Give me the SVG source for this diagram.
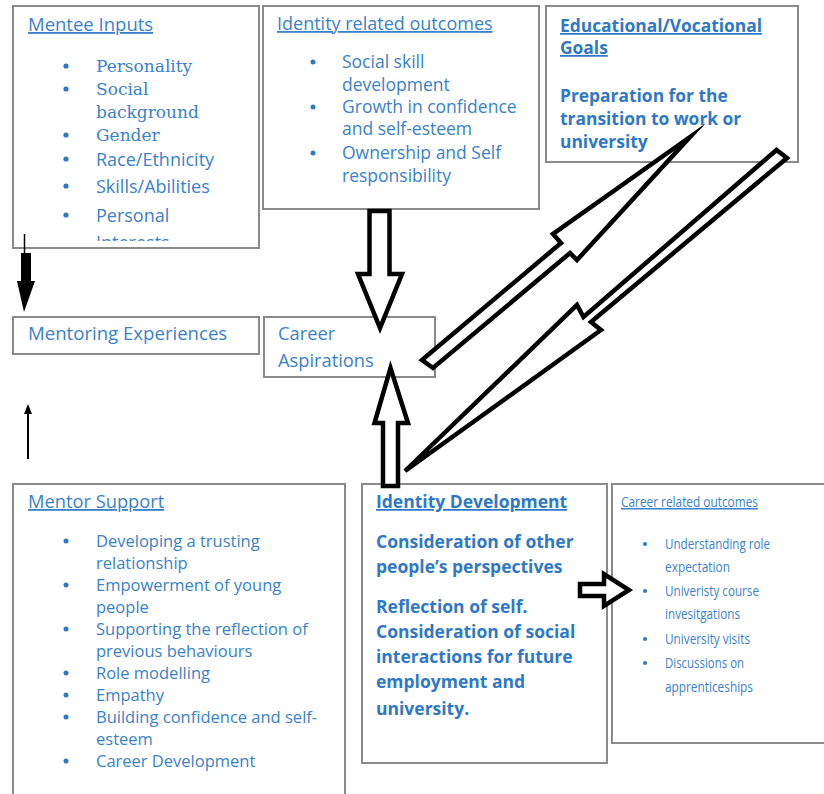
<svg xmlns="http://www.w3.org/2000/svg" width="824" height="794" viewBox="0 0 824 794">
<style>
.box{fill:#fff;stroke:#8a8a8a;stroke-width:2}
.t{font-family:"Open Sans","Liberation Sans",sans-serif;fill:#3a82cb}
.b{font-family:"Open Sans","Liberation Sans",sans-serif;font-weight:bold;fill:#2f78c6}
.s{font-family:"DejaVu Serif","Liberation Serif",serif;fill:#3a82cb}
.u{text-decoration:underline}
.dot{fill:#2f78c6}
.big{fill:#fff;stroke:#000;stroke-width:4.5;stroke-linejoin:miter;stroke-miterlimit:10}
</style>
<defs>
<clipPath id="c1"><rect x="13" y="6" width="246" height="235"/></clipPath>
</defs>
<rect width="824" height="794" fill="#fff"/>

<g id="mentee-inputs">
<rect class="box" x="13" y="6" width="246" height="242"/>
<text class="t u" x="28" y="31" font-size="18.5">Mentee Inputs</text>
<g class="dot">
<circle cx="66" cy="66" r="2.6"/><circle cx="66" cy="89" r="2.6"/><circle cx="66" cy="135" r="2.6"/><circle cx="66" cy="159" r="2.6"/><circle cx="66" cy="186" r="2.6"/><circle cx="66" cy="215" r="2.6"/>
</g>
<g class="s" font-size="17">
<text x="96" y="72">Personality</text>
<text x="96" y="95">Social</text>
<text x="96" y="118">background</text>
<text x="96" y="141">Gender</text>
</g>
<g class="t" font-size="18" clip-path="url(#c1)">
<text x="96" y="166">Race/Ethnicity</text>
<text x="96" y="193">Skills/Abilities</text>
<text x="96" y="222">Personal</text>
<text x="96" y="249">Interests</text>
</g>
</g>

<g id="identity-outcomes">
<rect class="box" x="263" y="6" width="276" height="203"/>
<text class="t u" x="277" y="30" font-size="18">Identity related outcomes</text>
<g class="dot">
<circle cx="313" cy="62" r="2.5"/><circle cx="313" cy="107" r="2.5"/><circle cx="313" cy="153" r="2.5"/>
</g>
<g class="t" font-size="17.5">
<text x="342" y="68">Social skill</text>
<text x="342" y="91">development</text>
<text x="342" y="113">Growth in confidence</text>
<text x="342" y="135">and self-esteem</text>
<text x="342" y="159">Ownership and Self</text>
<text x="342" y="182">responsibility</text>
</g>
</g>

<g id="educational-goals">
<rect class="box" x="546" y="6" width="252" height="156"/>
<g class="b" font-size="17.4">
<text class="u" x="560" y="32">Educational/Vocational</text>
<text class="u" x="560" y="54">Goals</text>
<text x="560" y="102">Preparation for the</text>
<text x="560" y="125">transition to work or</text>
<text x="560" y="148">university</text>
</g>
</g>

<g id="mentoring-experiences">
<rect class="box" x="13" y="317" width="246" height="37"/>
<text class="t" x="28" y="340" font-size="18.6">Mentoring Experiences</text>
</g>

<g id="career-aspirations">
<rect class="box" x="264" y="317" width="171" height="60"/>
<text class="t" x="278" y="340" font-size="18.3">Career</text>
<text class="t" x="278" y="367" font-size="18.3">Aspirations</text>
</g>

<g id="mentor-support">
<rect class="box" x="13" y="484" width="332" height="330"/>
<text class="t u" x="28" y="508" font-size="18.3">Mentor Support</text>
<g class="dot">
<circle cx="66" cy="541" r="2.5"/><circle cx="66" cy="585" r="2.5"/><circle cx="66" cy="629" r="2.5"/><circle cx="66" cy="673" r="2.5"/><circle cx="66" cy="695" r="2.5"/><circle cx="66" cy="717" r="2.5"/><circle cx="66" cy="761" r="2.5"/>
</g>
<g class="t" font-size="16.5">
<text x="96" y="547">Developing a trusting</text>
<text x="96" y="569">relationship</text>
<text x="96" y="591">Empowerment  of young</text>
<text x="96" y="613">people</text>
<text x="96" y="635">Supporting the reflection of</text>
<text x="96" y="657">previous behaviours</text>
<text x="96" y="679">Role modelling</text>
<text x="96" y="701">Empathy</text>
<text x="96" y="723">Building confidence and self-</text>
<text x="96" y="745">esteem</text>
<text x="96" y="767">Career Development</text>
</g>
</g>

<g id="identity-development">
<rect class="box" x="362" y="484" width="245" height="279"/>
<g class="b" font-size="17.5">
<text class="u" x="376" y="508">Identity Development</text>
<text x="376" y="548">Consideration of other</text>
<text x="376" y="573">people’s perspectives</text>
<text x="376" y="613">Reflection of self.</text>
<text x="376" y="638">Consideration of social</text>
<text x="376" y="663">interactions for future</text>
<text x="376" y="688">employment and</text>
<text x="376" y="715">university.</text>
</g>
</g>

<g id="career-outcomes">
<rect class="box" x="612" y="484" width="230" height="259"/>
<g class="dot">
<circle cx="645" cy="544" r="2"/><circle cx="645" cy="591" r="2"/><circle cx="645" cy="639" r="2"/><circle cx="645" cy="663" r="2"/>
</g>
<g class="t" font-size="15">
<text class="u" x="621" y="507" textLength="137" lengthAdjust="spacingAndGlyphs">Career related outcomes</text>
<text x="665" y="549" textLength="105" lengthAdjust="spacingAndGlyphs">Understanding role</text>
<text x="665" y="572" textLength="65" lengthAdjust="spacingAndGlyphs">expectation</text>
<text x="665" y="596" textLength="94" lengthAdjust="spacingAndGlyphs">Univeristy course</text>
<text x="665" y="619" textLength="75" lengthAdjust="spacingAndGlyphs">invesitgations</text>
<text x="665" y="644" textLength="85" lengthAdjust="spacingAndGlyphs">University visits</text>
<text x="665" y="668" textLength="79" lengthAdjust="spacingAndGlyphs">Discussions on</text>
<text x="665" y="692" textLength="88" lengthAdjust="spacingAndGlyphs">apprenticeships</text>
</g>
</g>

<g id="connectors">
<line x1="24.5" y1="234" x2="24.5" y2="306" stroke="#000" stroke-width="1.5"/>
<polygon points="21,253 31,253 31,281 35,281 24,312 17,281 21,281" fill="#000"/>
<line x1="28" y1="459" x2="28" y2="410" stroke="#000" stroke-width="2"/>
<polygon points="24,414 28,404 32,414" fill="#000"/>
<polygon class="big" points="369.5,211 389.5,211 389.5,274 402,274 380,328 358,274 369.5,274"/>
<polygon class="big" points="383,486 398,486 398,423 408,423 390.5,368 374.5,423 383,423"/>
<polygon class="big" points="422,360 561,243 553,234 690,137 577,260 570,253 433,368"/>
<polygon class="big" points="776.5,150 583.5,317 577,305 405,471 601,330 591,322 787,158"/>
<polygon class="big" points="580,584 604,584 604,574 629,590 604,606 604,596 580,596"/>
</g>
</svg>
